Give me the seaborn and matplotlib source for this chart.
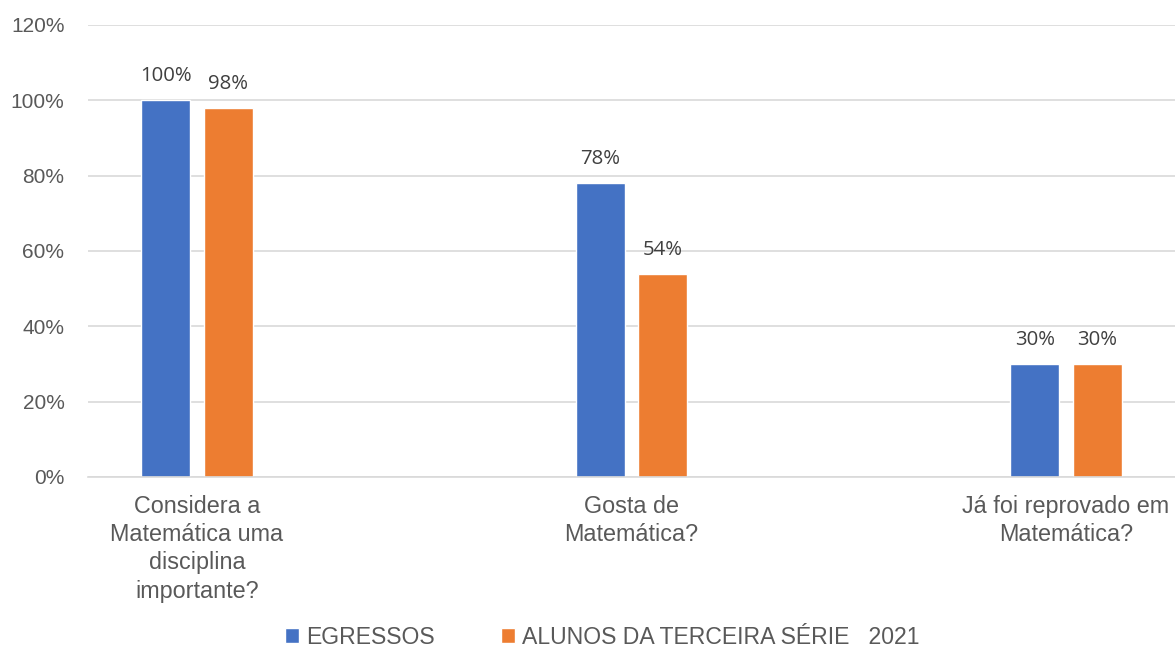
import pandas as pd
import matplotlib.pyplot as plt
import seaborn as sns
from matplotlib.ticker import PercentFormatter

# Données
categorias = ["Considera a\nMatemática uma\ndisciplina\nimportante?",
              "Gosta de\nMatemática?",
              "Já foi reprovado em\nMatemática?"]
egressos = [1.00, 0.78, 0.30]
alunos = [0.98, 0.54, 0.30]
series = ["EGRESSOS", "ALUNOS DA TERCEIRA SÉRIE   2021"]
cores = ["#4472C4", "#ED7D31"]

df = pd.DataFrame({
    "categoria": categorias * 2,
    "valor": egressos + alunos,
    "serie": [series[0]] * 3 + [series[1]] * 3,
})

sns.set_theme(style="white")
plt.rcParams['font.family'] = ['Liberation Sans', 'DejaVu Sans']
cinza = "#595959"

fig = plt.figure(figsize=(11.75, 6.48), dpi=100)
ax = fig.add_axes([88 / 1175, 1 - 477 / 648, 1 - 88 / 1175, (477 - 25) / 648])

sns.barplot(data=df, x="categoria", y="valor", hue="serie", palette=cores,
            width=0.2877, gap=0.214, saturation=1, ax=ax, legend=True)

for cont in ax.containers:
    ax.bar_label(cont, labels=[f"{v:.0%}" for v in cont.datavalues],
                 padding=10, fontsize=14.7, color="#404040", family="Open Sans")

ax.set_xlim(-0.251, 2.251)
ax.set_ylim(0, 1.2)
ax.set_yticks([0, 0.2, 0.4, 0.6, 0.8, 1.0, 1.2])
ax.yaxis.set_major_formatter(PercentFormatter(1.0, decimals=0))
ax.grid(axis="y", color="#D9D9D9", linewidth=1.2)
ax.set_axisbelow(True)
for s in ["left", "right", "top"]:
    ax.spines[s].set_visible(False)
ax.spines["bottom"].set_color("#D9D9D9")
ax.spines["bottom"].set_linewidth(1.2)
ax.tick_params(axis="y", length=0, pad=17, labelsize=15, labelcolor=cinza)
ax.tick_params(axis="x", length=0, pad=13, labelsize=16.8, labelcolor=cinza)
for t in ax.get_xticklabels():
    t.set_linespacing(1.29)
ax.set_xlabel("")
ax.set_ylabel("")

handles, labels = ax.get_legend_handles_labels()
ax.legend(handles, labels, loc="center", ncol=2, frameon=False,
          fontsize=16.6, labelcolor=cinza,
          handlelength=0.6, handleheight=0.6, handletextpad=0.3,
          columnspacing=2.9)
ax.get_legend().set_bbox_to_anchor((0.5 * (287 + 918) / 1175, 1 - 637 / 648),
                                   transform=fig.transFigure)

fig.savefig("out.png", dpi=100)
